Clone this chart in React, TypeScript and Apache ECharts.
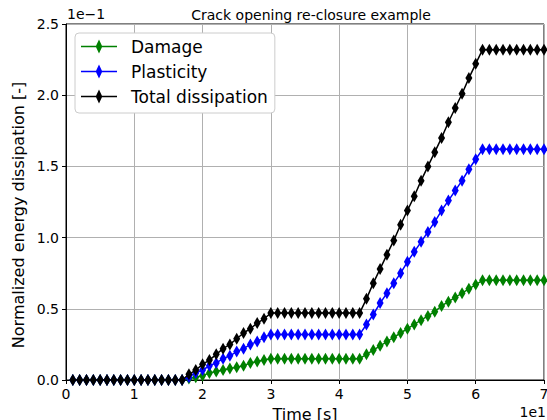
import React, { useEffect, useRef } from "react";
import * as echarts from "echarts";

// Time [s]
const time: number[] = Array.from({ length: 70 }, (_, i) => i + 1);

// Values in units of 1e-1 (normalized energy dissipation)
const damage: number[] = [
  0, 0, 0, 0, 0, 0, 0, 0, 0, 0, 0, 0, 0, 0, 0, 0, 0,
  0.01, 0.02, 0.03, 0.05, 0.06, 0.07, 0.08, 0.09, 0.1, 0.12, 0.13, 0.14, 0.15,
  0.15, 0.15, 0.15, 0.15, 0.15, 0.15, 0.15, 0.15, 0.15, 0.15, 0.15, 0.15, 0.15,
  0.18, 0.21, 0.24, 0.27, 0.3, 0.33, 0.36, 0.39, 0.42, 0.45, 0.48, 0.52, 0.55, 0.58, 0.61, 0.64, 0.67, 0.7,
  0.7, 0.7, 0.7, 0.7, 0.7, 0.7, 0.7, 0.7, 0.7,
];

const plasticity: number[] = [
  0, 0, 0, 0, 0, 0, 0, 0, 0, 0, 0, 0, 0, 0, 0, 0, 0,
  0.02, 0.05, 0.07, 0.1, 0.12, 0.15, 0.17, 0.2, 0.22, 0.25, 0.27, 0.3, 0.32,
  0.32, 0.32, 0.32, 0.32, 0.32, 0.32, 0.32, 0.32, 0.32, 0.32, 0.32, 0.32, 0.32,
  0.39, 0.46, 0.54, 0.61, 0.68, 0.75, 0.83, 0.9, 0.97, 1.04, 1.11, 1.19, 1.26, 1.33, 1.4, 1.48, 1.55, 1.62,
  1.62, 1.62, 1.62, 1.62, 1.62, 1.62, 1.62, 1.62, 1.62,
];

const totalDissipation: number[] = [
  0, 0, 0, 0, 0, 0, 0, 0, 0, 0, 0, 0, 0, 0, 0, 0, 0,
  0.04, 0.07, 0.11, 0.14, 0.18, 0.22, 0.25, 0.29, 0.33, 0.36, 0.4, 0.43, 0.47,
  0.47, 0.47, 0.47, 0.47, 0.47, 0.47, 0.47, 0.47, 0.47, 0.47, 0.47, 0.47, 0.47,
  0.57, 0.68, 0.78, 0.88, 0.98, 1.09, 1.19, 1.29, 1.4, 1.5, 1.6, 1.7, 1.81, 1.91, 2.01, 2.12, 2.22, 2.32,
  2.32, 2.32, 2.32, 2.32, 2.32, 2.32, 2.32, 2.32, 2.32,
];

const seriesNames = ["Damage", "Plasticity", "Total dissipation"];
const seriesColors = ["#008000", "#0000ff", "#000000"];

const FONT = "DejaVu Sans";

// legend icon: line with a thin diamond in the middle
const LEGEND_ICON =
  "path://M0 6.25 L36 6.25 L36 7.75 L0 7.75 Z M18 0.5 L21.3 7 L18 13.5 L14.7 7 Z";

export default function App() {
  const ref = useRef<HTMLDivElement>(null);
  useEffect(() => {
    if (!ref.current) return;
    const chart = echarts.init(ref.current, undefined, { renderer: "svg" });
    const allData = [damage, plasticity, totalDissipation];
    chart.setOption({
      animation: false,
      textStyle: { fontFamily: FONT },
      title: {
        text: "Crack opening re-closure example",
        left: 306,
        textAlign: "center",
        top: 3,
        textStyle: { fontFamily: FONT, fontSize: 14, fontWeight: "normal", color: "#000" },
      },
      legend: {
        left: 75,
        top: 33,
        orient: "vertical",
        backgroundColor: "#fff",
        borderColor: "#cccccc",
        borderWidth: 1,
        borderRadius: 4,
        padding: [5, 7, 8, 6],
        itemWidth: 36,
        itemHeight: 14,
        itemGap: 8,
        symbolKeepAspect: false,
        icon: LEGEND_ICON,
        textStyle: { fontFamily: FONT, fontSize: 17, color: "#000", padding: [0, 0, 0, 9] },
        data: seriesNames.map((n) => ({ name: n, icon: LEGEND_ICON })),
      },
      grid: {
        left: 66,
        right: 3,
        top: 24,
        bottom: 40,
        outerBoundsMode: "none",
        containLabel: false,
        show: true,
        borderColor: "#000",
        borderWidth: 1,
        backgroundColor: "transparent",
      },
      xAxis: {
        type: "value",
        min: 0,
        max: 70,
        interval: 10,
        axisLine: { show: true, lineStyle: { color: "#000", width: 1 } },
        axisTick: { show: true, length: 4, lineStyle: { color: "#000" } },
        axisLabel: {
          fontFamily: FONT,
          fontSize: 14,
          color: "#000",
          margin: 7,
          formatter: (v: number) => String(Math.round(v / 10)),
        },
        splitLine: { show: true, lineStyle: { color: "#b0b0b0", width: 1 } },
      },
      yAxis: {
        type: "value",
        min: 0,
        max: 2.5,
        interval: 0.5,
        axisLine: { show: true, lineStyle: { color: "#000", width: 1 } },
        axisTick: { show: true, length: 4, lineStyle: { color: "#000" } },
        axisLabel: {
          fontFamily: FONT,
          fontSize: 14,
          color: "#000",
          margin: 7,
          formatter: (v: number) => v.toFixed(1),
        },
        splitLine: { show: true, lineStyle: { color: "#b0b0b0", width: 1 } },
      },
      graphic: [
        {
          type: "text",
          x: 18,
          y: 215,
          rotation: Math.PI / 2,
          style: {
            text: "Normalized energy dissipation [-]",
            fontFamily: FONT,
            fontSize: 16,
            fill: "#000",
            align: "center",
            verticalAlign: "middle",
          },
        },
        {
          type: "text",
          x: 305,
          y: 406,
          style: {
            text: "Time [s]",
            fontFamily: FONT,
            fontSize: 16,
            fill: "#000",
            align: "center",
            verticalAlign: "top",
          },
        },
        {
          type: "text",
          x: 67,
          y: 7,
          style: { text: "1e\u22121", fontFamily: FONT, fontSize: 14, fill: "#000" },
        },
        {
          type: "text",
          x: 546,
          y: 405,
          style: { text: "1e1", fontFamily: FONT, fontSize: 14, fill: "#000", align: "right" },
        },
      ],
      series: seriesNames.map((name, k) => ({
        name,
        type: "line",
        data: time.map((t, i) => [t, allData[k][i]]),
        symbol: "diamond",
        symbolSize: [7, 12],
        showAllSymbol: true,
        clip: true,
        color: seriesColors[k],
        itemStyle: { color: seriesColors[k] },
        lineStyle: { color: seriesColors[k], width: 1.5 },
        z: 2 + k,
      })),
    });
    return () => chart.dispose();
  }, []);
  return <div ref={ref} style={{ width: 547, height: 420, position: "absolute", left: 0, top: 0 }} />;
}
